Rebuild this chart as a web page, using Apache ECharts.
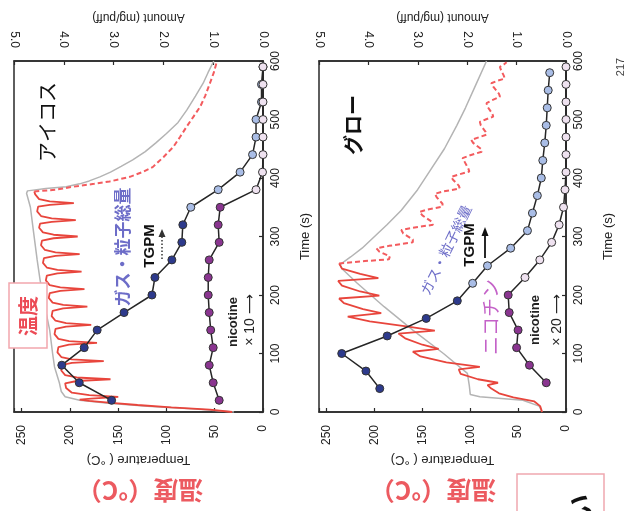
<!DOCTYPE html>
<html><head><meta charset="utf-8">
<script src="https://cdn.jsdelivr.net/npm/echarts@6/dist/echarts.min.js"></script>
<style>html,body{margin:0;padding:0;background:#fff}#c{width:627px;height:511px}</style>
</head><body><div id="c"></div>
<script>
// ---- tick labels ----
const tempTicks = [0, 50, 100, 150, 200, 250];
const amountTicks = [0, 1, 2, 3, 4, 5];
const timeTicks = [0, 100, 200, 300, 400, 500, 600];

// ---- IQOS (アイコス) : [time s, temperature °C] ----
const iqosTempGray = [[0,30],[5,70],[10,120],[15,160],[20,190],[26,205],[35,209],[50,211],[77,216],[100,218],[140,221],[180,226],[226,231],[260,234],[311,238],[350,241],[374,245],[378,244],[382,225],[385,204],[390,190],[395,180],[402,169],[410,158],[420,147],[431,135],[445,122],[460,111],[476,100],[495,88],[516,79],[540,70],[562,62],[580,57],[600,51]];
const iqosTempSolid = [[0,32],[4,55],[8,95],[12,130],[16,160],[19,180],
[21,190],[23,178],[26,150],[29,180],[33,198],[41,204],
[49,205],[53,193],[56,158],[59,193],[63,205],[71,209],
[80,209],[84,198],[87,165],[90,198],[94,209],[102,213],
[111,212],[115,201],[118,172],[121,201],[125,212],[133,216],
[142,215],[146,204],[149,178],[152,204],[156,215],[164,219],
[173,218],[177,207],[180,182],[183,207],[187,218],[195,222],
[203,221],[207,210],[210,185],[213,210],[217,221],[225,225],
[233,224],[237,213],[240,188],[243,213],[247,224],[255,228],
[263,227],[267,215],[270,190],[273,215],[277,226],[285,230],
[293,229],[297,217],[300,192],[303,217],[307,228],[315,232],
[322,231],[325,219],[328,194],[331,219],[335,230],[343,234],
[351,233],[354,221],[357,196],[360,221],[364,232],[372,236],[377,237]];
const iqosTempDashed = [[377,237],[380,215],[385,197],[390,175],[394,159],[402,138],[410,125],[419,114],[436,103],[453,93],[470,86],[488,79],[505,72],[522,65],[540,60],[562,55],[580,51],[598,48]];
// amounts (mg/puff)
const iqosTime = [20,50,80,110,140,170,200,230,260,290,320,350,380,410,440,470,500,530,560,590];
const iqosTgpm = [3.04,3.69,4.04,3.59,3.33,2.79,2.23,2.17,1.83,1.63,1.61,1.45,0.90,0.46,0.21,0.14,0.14,0.03,0.03,0.00];
const iqosNicotine = [0.88,1.00,1.08,1.00,1.05,1.08,1.10,1.10,1.08,0.88,0.90,0.86,0.14,0.01,0.00,0.00,0.00,0.00,0.00,0.00];
const iqosTgpmDark = 11, iqosNicDark = 12;

// ---- glo (グロー) ----
const gloTempGray = [[0,25],[10,28],[20,45],[26,90],[30,100],[45,101],[66,103],[100,128],[140,160],[180,190],[220,218],[245,234],[252,236],[265,225],[280,213],[300,200],[320,187],[345,172],[380,155],[410,143],[450,127],[490,114],[520,105],[560,94],[600,83]];
const gloTempSolid = [[0,25],[10,27],[18,33],[25,55],[32,70],[40,78],[46,82],[50,71],[56,92],[65,110],[73,112],[77,90],[85,125],[95,152],[103,160],[108,133],[115,150],[126,168],[134,175],[139,137],[146,165],[155,205],[163,228],[169,193],[176,212],[186,232],[194,237],[199,195],[206,215],[216,234],[224,238],[229,196],[236,215],[245,234],[254,237]];
const gloTempDashed = [[254,237],[258,210],[261,185],[266,184],[274,195],[280,198],[284,185],[290,160],[295,160],[305,170],[311,172],[315,160],[320,139],[325,140],[336,150],[342,153],[346,145],[351,129],[356,129],[367,135],[373,137],[377,128],[382,111],[387,112],[397,118],[402,120],[406,112],[411,101],[416,102],[428,106],[434,108],[439,100],[445,88],[450,89],[460,97],[465,99],[469,92],[474,83],[479,84],[490,89],[496,90],[500,84],[505,76],[510,77],[522,82],[528,83],[533,77],[539,69],[544,70],[556,76],[562,78],[566,72],[570,64],[575,65],[585,68],[590,69],[594,65],[598,62]];
const gloTgpmTime = [40,70,100,130,160,190,220,250,280,310,340,370,400,430,460,490,520,550,580];
const gloTgpm = [3.77,4.05,4.54,3.62,2.83,2.20,1.89,1.59,1.12,0.78,0.68,0.58,0.50,0.47,0.43,0.40,0.38,0.36,0.33];
const gloNicTime = [50,80,110,140,170,200,230,260,290,320,350,380,410,440,470,500,530,560,590];
const gloNicotine = [0.40,0.74,1.00,0.97,1.15,1.17,0.83,0.53,0.29,0.14,0.05,0.02,0.00,0.00,0.00,0.00,0.00,0.00,0.00];
const gloTgpmDark = 6, gloNicDark = 6;

// ---- styling ----
const FONT = '"Liberation Sans", Arial, sans-serif';
const JP = '"Noto Sans CJK JP", sans-serif';
const AX = '#2a2a2a';
const C_GRAY = '#b4b4b4', C_RED = '#e8453c', C_DASH = '#f35b5e';
const C_NAVY = '#2d3a8c', C_LBLUE = '#a9bde6', C_PURP = '#8a3590', C_LPINK = '#efe2f0';

function pts(times, vals, nDark, dark, light) {
  return times.map((t, i) => ({ value: [t, vals[i]], itemStyle: { color: i < nDark ? dark : light } }));
}
function axisCommon() {
  return {
    axisLine: { show: true, lineStyle: { color: AX, width: 1.5 } },
    axisTick: { show: true, inside: true, length: 4, lineStyle: { color: AX, width: 1.2 } },
    splitLine: { show: false }
  };
}
function tempAxis(g) {
  return Object.assign(axisCommon(), {
    gridIndex: g, type: 'value', position: 'bottom', inverse: true, min: 0, max: 258, interval: 50,
    name: 'Temperature ( °C)', nameLocation: 'middle', nameGap: 35, nameRotate: 180,
    nameTextStyle: { fontFamily: FONT, fontSize: 13, color: '#222' },
    axisLabel: { rotate: 90, margin: 13, fontFamily: FONT, fontSize: 12, color: '#222',
      formatter: v => tempTicks.includes(v) ? String(v) : '' }
  });
}
function amountAxis(g) {
  return Object.assign(axisCommon(), {
    gridIndex: g, type: 'value', position: 'top', inverse: true, min: 0, max: 5, interval: 1,
    name: 'Amount (mg/puff)', nameLocation: 'middle', nameGap: 37, nameRotate: 180,
    nameTextStyle: { fontFamily: FONT, fontSize: 12, color: '#222' },
    axisLabel: { rotate: 90, margin: 13, fontFamily: FONT, fontSize: 12, color: '#222',
      formatter: v => amountTicks.includes(v) ? v.toFixed(1) : '' }
  });
}
function timeAxis(g) {
  return Object.assign(axisCommon(), {
    gridIndex: g, type: 'value', position: 'right', min: 0, max: 600, interval: 100,
    name: 'Time (s)', nameLocation: 'middle', nameGap: 36, nameRotate: 90,
    nameTextStyle: { fontFamily: FONT, fontSize: 13, color: '#222' },
    axisLabel: { rotate: 90, margin: 7, fontFamily: FONT, fontSize: 12, color: '#222',
      formatter: v => timeTicks.includes(v) ? String(v) : '' }
  });
}
function tempLine(data, xi, yi, color, width, dash, z) {
  return { type: 'line', data: data, xAxisIndex: xi, yAxisIndex: yi, encode: { x: 1, y: 0 },
    showSymbol: false, symbol: 'none', smooth: false, z: z, animation: false,
    lineStyle: { color: color, width: width, type: dash ? [5, 3] : 'solid' } };
}
function markerLine(data, xi, yi) {
  return { type: 'line', data: data, xAxisIndex: xi, yAxisIndex: yi, encode: { x: 1, y: 0 },
    symbol: 'circle', symbolSize: 8, showSymbol: true, showAllSymbol: true, z: 5, animation: false,
    lineStyle: { color: '#262626', width: 1.5 },
    itemStyle: { borderColor: '#333', borderWidth: 1 } };
}

const R90 = Math.PI / 2;
function vtext(x, y, text, font, fill, rot) {
  return { type: 'text', x: x, y: y, rotation: rot === undefined ? R90 : rot, z: 100,
    style: { text: text, font: font, fill: fill, align: 'center', verticalAlign: 'middle',
      textAlign: 'center', textVerticalAlign: 'middle' } };
}

const option = {
  backgroundColor: '#ffffff',
  animation: false,
  grid: [
    { left: 14, top: 61, width: 249, height: 351, show: true, borderColor: AX, borderWidth: 1.5, backgroundColor: 'transparent' },
    { left: 319, top: 61, width: 247, height: 351, show: true, borderColor: AX, borderWidth: 1.5, backgroundColor: 'transparent' }
  ],
  xAxis: [tempAxis(0), amountAxis(0), tempAxis(1), amountAxis(1)],
  yAxis: [timeAxis(0), timeAxis(1)],
  series: [
    tempLine(iqosTempGray, 0, 0, C_GRAY, 1.5, false, 2),
    tempLine(iqosTempSolid, 0, 0, C_RED, 1.8, false, 3),
    tempLine(iqosTempDashed, 0, 0, C_DASH, 2, true, 3),
    markerLine(pts(iqosTime, iqosTgpm, iqosTgpmDark, C_NAVY, C_LBLUE), 1, 0),
    markerLine(pts(iqosTime, iqosNicotine, iqosNicDark, C_PURP, C_LPINK), 1, 0),
    tempLine(gloTempGray, 2, 1, C_GRAY, 1.5, false, 2),
    tempLine(gloTempSolid, 2, 1, C_RED, 1.8, false, 3),
    tempLine(gloTempDashed, 2, 1, C_DASH, 2, true, 3),
    markerLine(pts(gloTgpmTime, gloTgpm, gloTgpmDark, C_NAVY, C_LBLUE), 3, 1),
    markerLine(pts(gloNicTime, gloNicotine, gloNicDark, C_PURP, C_LPINK), 3, 1)
  ],
  graphic: [
    vtext(47, 122, 'アイコス', '20px ' + JP, '#111'),
    vtext(353, 125, 'グロー', 'bold 20px ' + JP, '#111'),
    { type: 'rect', z: 99, shape: { x: 9, y: 283, width: 38, height: 65 },
      style: { fill: '#fff', stroke: '#f2a6ad', lineWidth: 1.5 } },
    vtext(28, 316, '温度', 'bold 20px ' + JP, '#ec4a55'),
    vtext(123, 247, 'ガス・粒子総量', 'bold 17px ' + JP, '#6d6dc8'),
    vtext(150, 246, 'TGPM', 'bold 15px ' + FONT, '#111'),
    { type: 'line', z: 100, shape: { x1: 162, y1: 259, x2: 162, y2: 236 },
      style: { stroke: '#333', lineWidth: 1.5, lineDash: [1.5, 2] } },
    { type: 'polygon', z: 100, shape: { points: [[158.5, 237], [165.5, 237], [162, 229]] }, style: { fill: '#333' } },
    vtext(233, 322, 'nicotine', 'bold 13px ' + FONT, '#222'),
    vtext(250, 320, '× 10 ⟶', '14px ' + FONT + ', "DejaVu Sans"', '#222'),
    vtext(446, 250, 'ガス・粒子総量', '14px ' + JP, '#6d6dc8', 64 * Math.PI / 180),
    vtext(470, 245, 'TGPM', 'bold 15px ' + FONT, '#111'),
    { type: 'line', z: 100, shape: { x1: 485, y1: 258, x2: 485, y2: 234 },
      style: { stroke: '#111', lineWidth: 1.8 } },
    { type: 'polygon', z: 100, shape: { points: [[481.5, 236], [488.5, 236], [485, 227]] }, style: { fill: '#111' } },
    vtext(491, 317, 'ニコチン', '19px ' + JP, '#c462c8'),
    vtext(535, 320, 'nicotine', 'bold 13px ' + FONT, '#222'),
    vtext(557, 320, '× 20 ⟶', '14px ' + FONT + ', "DejaVu Sans"', '#222'),
    vtext(140, 490, '温度（°C）', 'bold 25px ' + JP, '#ec5a60', Math.PI),
    vtext(433, 490, '温度（°C）', 'bold 25px ' + JP, '#ec5a60', Math.PI),
    vtext(621, 67, '217', '11px ' + FONT, '#444'),
    { type: 'rect', z: 99, shape: { x: 517, y: 474, width: 87, height: 50 },
      style: { fill: 'none', stroke: '#f0a8b0', lineWidth: 1.5 } },
    vtext(580, 508, 'い', 'bold 28px ' + JP, '#111')
  ]
};

const chart = echarts.init(document.getElementById('c'), null, { width: 627, height: 511 });
chart.setOption(option);
</script></body></html>
